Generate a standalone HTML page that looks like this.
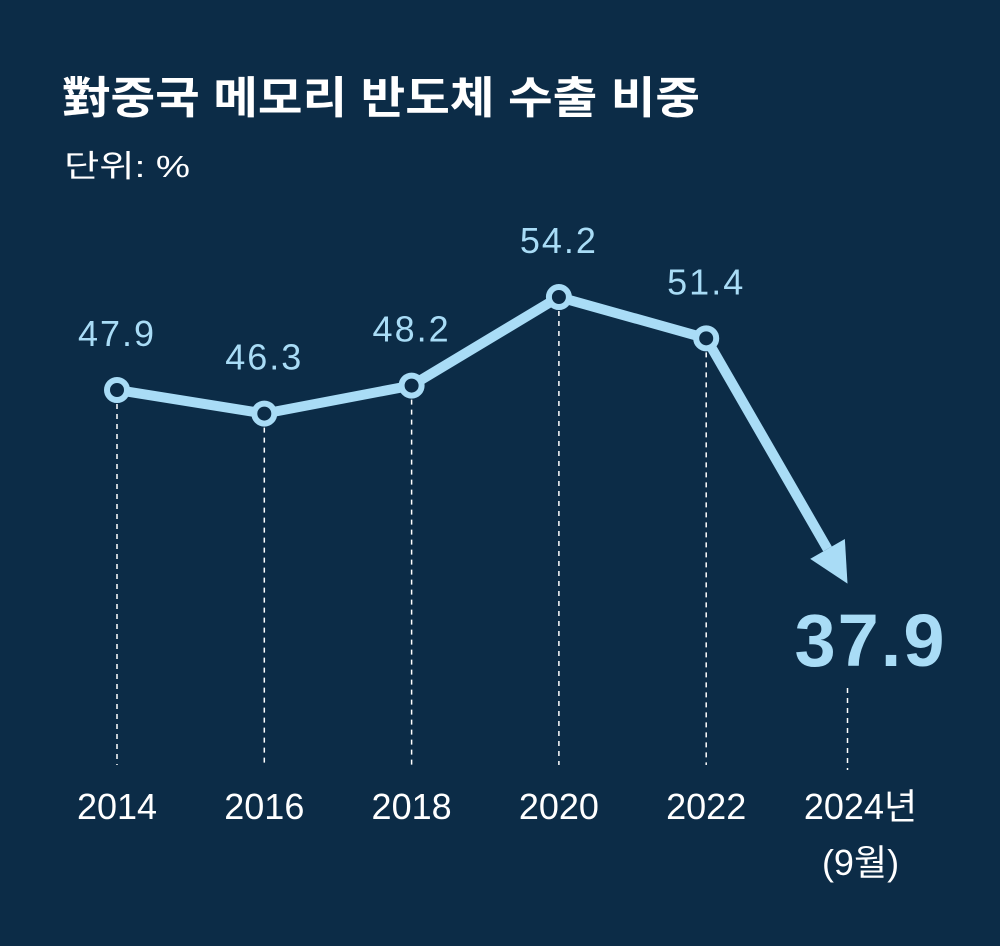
<!DOCTYPE html>
<html><head><meta charset="utf-8"><style>
body{margin:0;background:#0c2c47;}
svg{display:block;font-family:"Liberation Sans","Noto Sans CJK KR",sans-serif;}
</style></head><body>
<svg width="1000" height="946" viewBox="0 0 1000 946">
<rect width="1000" height="946" fill="#0c2c47"/>
<text x="62" y="113" font-size="44" font-weight="bold" fill="#ffffff" textLength="638" lengthAdjust="spacingAndGlyphs">對중국 메모리 반도체 수출 비중</text>
<text x="64" y="177" font-size="31" fill="#ffffff" textLength="126" lengthAdjust="spacingAndGlyphs">단위: %</text>
<g id="plot"></g>
</svg>
<script>
const categories=["2014","2016","2018","2020","2022","2024년"];
const values=[47.9,46.3,48.2,54.2,51.4,37.9];
const valueLabels=["47.9","46.3","48.2","54.2","51.4","37.9"];
const NS="http://www.w3.org/2000/svg";
const g=document.getElementById('plot');
const C="#a9dcf6";
function x(i){return 117+i*147.3;}
function y(v){return 1097-v*14.76;}
function mk(t,a){const e=document.createElementNS(NS,t);for(const k in a)e.setAttribute(k,a[k]);g.appendChild(e);return e;}
for(let i=0;i<5;i++){
  const d=mk('line',{x1:x(i),y1:y(values[i])+14,x2:x(i),y2:765,stroke:"#ffffff","stroke-width":1.5,"stroke-dasharray":"5,5"});
  
  
}
const d5=mk('line',{x1:x(5)-6,y1:688,x2:x(5)-6,y2:770,stroke:"#ffffff","stroke-width":1.5,"stroke-dasharray":"5,5"});


let pts=[];for(let i=0;i<5;i++)pts.push(x(i)+","+y(values[i]));
const pl=mk('polyline',{points:pts.join(" "),fill:"none",stroke:C,"stroke-width":10,"stroke-linejoin":"round"});


const ax0=x(4),ay0=y(values[4]),ax1=x(5)-6,ay1=y(values[5])+46;
const ang=Math.atan2(ay1-ay0,ax1-ax0),hl=40,hw=20;
const bx=ax1-hl*Math.cos(ang),by=ay1-hl*Math.sin(ang);
const al=mk('line',{x1:ax0,y1:ay0,x2:bx,y2:by,stroke:C,"stroke-width":10});


const px=-Math.sin(ang),py=Math.cos(ang);
const ah=mk('polygon',{points:`${ax1},${ay1} ${bx+hw*px},${by+hw*py} ${bx-hw*px},${by-hw*py}`,fill:C});


for(let i=0;i<5;i++){
  const c=mk('circle',{cx:x(i),cy:y(values[i]),r:10,fill:"#0c2c47",stroke:C,"stroke-width":6});
  
  
  const t=mk('text',{x:x(i),y:y(values[i])-44,"text-anchor":"middle","font-size":36,fill:C,"letter-spacing":"2"});
  t.textContent=valueLabels[i];
  
  
}
const big=mk('text',{x:x(5)+17,y:666,"text-anchor":"middle","font-size":74,"font-weight":"bold",fill:C,"letter-spacing":"2"});
big.textContent=valueLabels[5];


for(let i=0;i<6;i++){
  const t=mk('text',{x:x(i)+(i==5?7:0),y:819,"text-anchor":"middle","font-size":36,fill:"#ffffff"});
  t.textContent=categories[i];
  
  
}
const sub=mk('text',{x:x(5)+7,y:875,"text-anchor":"middle","font-size":36,fill:"#ffffff"});
sub.textContent="(9월)";


</script>
</body></html>
